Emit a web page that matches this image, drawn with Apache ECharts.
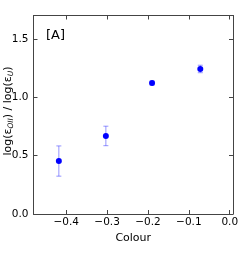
<!DOCTYPE html>
<html><head><meta charset="utf-8">
<script src="https://cdn.jsdelivr.net/npm/echarts@6/dist/echarts.min.js"></script>
<style>html,body{margin:0;padding:0;background:#fff}#c{width:245px;height:255px}</style>
</head><body><div id="c"></div>
<script>
const colours = [-0.418, -0.303, -0.19, -0.072];
const ratios = [0.453, 0.668, 1.122, 1.242];
const errLow = [0.324, 0.585, 1.105, 1.21];
const errHigh = [0.583, 0.752, 1.138, 1.274];
const xTicks = [-0.4, -0.3, -0.2, -0.1, 0.0];
const yTicks = [0.0, 0.5, 1.0, 1.5];
const panelLabel = '[A]';
const xTitle = 'Colour';
const yTitle = '{n|log(\u03b5}{s|OII}{n|) / log(\u03b5}{s|U}{n|)}';

const fmt = v => v.toFixed(1).replace('-', '\u2212');
const onGrid = (v, list) => list.some(t => Math.abs(t - v) < 1e-6);

const chart = echarts.init(document.getElementById('c'), null, {renderer: 'canvas'});
const axisLine = {show: true, onZero: false, lineStyle: {color: '#444', width: 1}};
const tick = {show: true, inside: true, length: 4, lineStyle: {color: '#444'}};
const font = {fontFamily: 'DejaVu Sans', fontSize: 10.5, color: '#000'};
chart.setOption({
  animation: false,
  grid: {left: 33.5, top: 15.5, right: 12, bottom: 41, containLabel: false, outerBoundsMode: 'none'},
  xAxis: [{
    type: 'value', min: -0.48, max: 0.008, splitNumber: 5,
    axisLine, axisTick: tick, splitLine: {show: false},
    axisLabel: Object.assign({margin: 3, formatter: v => onGrid(v, xTicks) ? fmt(v) : ''}, font),
    name: xTitle, nameLocation: 'middle', nameGap: 9,
    nameTextStyle: {fontFamily: 'DejaVu Sans', fontSize: 11, color: '#000'}
  }, {
    type: 'value', position: 'top', min: -0.48, max: 0.008, splitNumber: 5,
    axisLine, axisTick: tick, axisLabel: {show: false}, splitLine: {show: false}
  }],
  yAxis: [{
    type: 'value', min: 0, max: 1.7, interval: 0.5,
    axisLine, axisTick: tick, splitLine: {show: false},
    axisLabel: Object.assign({margin: 5, formatter: v => onGrid(v, yTicks) ? fmt(v) : ''}, font)
  }, {
    type: 'value', position: 'right', min: 0, max: 1.7, interval: 0.5,
    axisLine, axisTick: tick, axisLabel: {show: false}, splitLine: {show: false}
  }],
  graphic: [{
    type: 'text', left: 46, top: 29,
    style: {text: panelLabel, fontFamily: 'DejaVu Sans', fontSize: 13, fill: '#000'}
  }, {
    type: 'text', x: 8.5, y: 111, rotation: Math.PI / 2,
    style: {
      text: yTitle, align: 'center', verticalAlign: 'middle',
      rich: {
        n: {fontFamily: 'DejaVu Sans', fontSize: 11, fill: '#000'},
        s: {fontFamily: 'DejaVu Sans', fontSize: 7.5, fontStyle: 'italic', fill: '#000', padding: [6, 0, 0, 0]}
      }
    }
  }],
  series: [{
    type: 'custom',
    data: colours.map((c, i) => [c, errLow[i], errHigh[i]]),
    renderItem: (params, api) => {
      const lo = api.coord([api.value(0), api.value(1)]);
      const hi = api.coord([api.value(0), api.value(2)]);
      const st = {stroke: 'rgba(60,60,255,0.55)', lineWidth: 1};
      const cap = 2.5;
      return {type: 'group', children: [
        {type: 'line', shape: {x1: lo[0], y1: lo[1], x2: hi[0], y2: hi[1]}, style: st},
        {type: 'line', shape: {x1: lo[0]-cap, y1: lo[1], x2: lo[0]+cap, y2: lo[1]}, style: st},
        {type: 'line', shape: {x1: hi[0]-cap, y1: hi[1], x2: hi[0]+cap, y2: hi[1]}, style: st}
      ]};
    },
    z: 1
  }, {
    type: 'scatter',
    data: colours.map((c, i) => [c, ratios[i]]),
    symbolSize: 6,
    itemStyle: {color: '#0000ff', opacity: 1},
    z: 2
  }]
});
</script></body></html>
